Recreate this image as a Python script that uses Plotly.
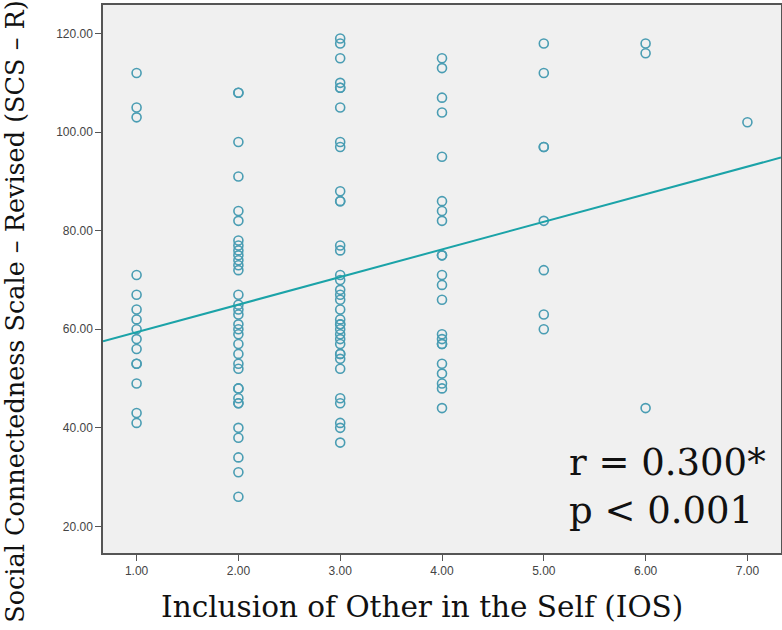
import plotly.graph_objects as go

# IOS category values and SCS-R scores
ios_1 = [112, 105, 103, 71, 67, 64, 62, 60, 58, 56, 53, 53, 49, 43, 41]
ios_2 = [108, 108, 98, 91, 84, 82, 78, 77, 76, 75, 74, 73, 72, 67, 65, 64, 63, 61, 60,
         59, 57, 55, 53, 52, 48, 48, 46, 45, 45, 40, 38, 34, 31, 26]
ios_3 = [119, 118, 115, 110, 109, 109, 105, 98, 97, 88, 86, 86, 77, 76, 71, 70, 68, 67,
         66, 64, 62, 61, 61, 60, 59, 58, 57, 55, 55, 54, 52, 46, 45, 41, 40, 37]
ios_4 = [115, 113, 107, 104, 95, 86, 84, 82, 75, 75, 71, 69, 66, 59, 58, 57, 57, 53,
         51, 49, 48, 44]
ios_5 = [118, 112, 97, 97, 82, 72, 63, 60]
ios_6 = [118, 116, 44]
ios_7 = [102]

groups = [(1, ios_1), (2, ios_2), (3, ios_3), (4, ios_4), (5, ios_5), (6, ios_6), (7, ios_7)]
x_vals = [g for g, ys in groups for _ in ys]
y_vals = [v for _, ys in groups for v in ys]

# fit line
fit_intercept = 53.8
fit_slope = 5.6
x_range = [0.67, 7.33]
y_range = [14.6, 125.8]

x_ticks = [1, 2, 3, 4, 5, 6, 7]
y_ticks = [20, 40, 60, 80, 100, 120]

x_title = "Inclusion of Other in the Self (IOS)"
y_title = "Social Connectedness Scale – Revised (SCS – R)"
stats_text = "r = 0.300*<br>p < 0.001"

serif = "DejaVu Serif, Liberation Serif, serif"

fig = go.Figure()
fig.add_trace(go.Scatter(
    x=x_vals, y=y_vals, mode="markers",
    marker=dict(symbol="circle-open", size=9, color="#4a9db3", line=dict(width=1.6)),
    showlegend=False, hoverinfo="skip"))
fig.add_trace(go.Scatter(
    x=x_range, y=[fit_intercept + fit_slope * x for x in x_range], mode="lines",
    line=dict(color="#1ba3a8", width=2), showlegend=False, hoverinfo="skip"))

fig.update_layout(
    width=782, height=630,
    margin=dict(l=103, r=1, t=5, b=77),
    paper_bgcolor="white", plot_bgcolor="#f0f0f0",
    font=dict(family="Liberation Sans, Arial, sans-serif", color="#333"),
    xaxis=dict(range=x_range, tickvals=x_ticks, tickformat=".2f", showgrid=False, zeroline=False,
               showline=True, mirror=True, linecolor="#555", linewidth=1.5, automargin=False,
               ticks="outside", ticklen=6, tickcolor="#555", tickfont=dict(size=12, color="#444")),
    yaxis=dict(range=y_range, tickvals=y_ticks, tickformat=".2f", showgrid=False, zeroline=False,
               showline=True, mirror=True, linecolor="#555", linewidth=1.5, automargin=False,
               ticks="outside", ticklen=6, tickcolor="#555", tickfont=dict(size=12, color="#444")),
    annotations=[
        dict(text=stats_text, xref="paper", yref="paper", x=0.685, y=0.035,
             xanchor="left", yanchor="bottom", align="left", showarrow=False,
             font=dict(family=serif, size=37, color="#111")),
        dict(text=x_title, xref="paper", yref="paper", x=0.471, y=-0.099,
             xanchor="center", yanchor="middle", showarrow=False,
             font=dict(family=serif, size=29.5, color="#111")),
        dict(text=y_title, xref="paper", yref="paper", x=-0.13, y=0.44, textangle=-90,
             xanchor="center", yanchor="middle", showarrow=False,
             font=dict(family=serif, size=25.5, color="#111")),
    ],
)

fig.write_html("out.html", config={"displayModeBar": False},
               post_script="document.body.style.margin='0';")
